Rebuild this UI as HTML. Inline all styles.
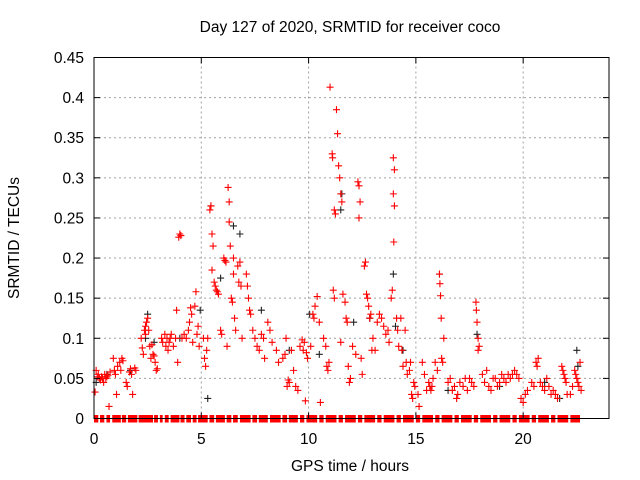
<!DOCTYPE html>
<html><head><meta charset="utf-8"><style>
body{margin:0;background:#fff}
svg{display:block;font-family:"Liberation Sans",sans-serif}
</style></head><body>
<svg id="chart" width="640" height="480" viewBox="0 0 640 480" xmlns="http://www.w3.org/2000/svg">
<rect width="640" height="480" fill="#fff"/>
<text x="350" y="32" font-size="15.5" text-anchor="middle">Day 127 of 2020, SRMTID for receiver coco</text>
<text x="350" y="471" font-size="15.5" text-anchor="middle">GPS time / hours</text>
<text x="19" y="238" font-size="15.5" text-anchor="middle" transform="rotate(-90 19 238)">SRMTID / TECUs</text>
<g id="grid"></g>
<g id="marks"></g>
<rect x="94" y="57.5" width="515" height="361" fill="none" stroke="#000" stroke-width="1"/>
<g id="ticks"></g>
</svg>
<script>
const xTicks=[0,5,10,15,20];
const yTicks=[0,0.05,0.1,0.15,0.2,0.25,0.3,0.35,0.4,0.45];
const yTickLabels=["0","0.05","0.1","0.15","0.2","0.25","0.3","0.35","0.4","0.45"];
const redPoints=[[0.05,.033],[0.1,.06],[0.15,.052],[0.2,.055],[0.25,.05],[0.3,.048],[0.35,.052],[0.4,.05],[0.45,.045],[0.5,.055],[0.55,.05],[0.6,.052],[0.65,.054],[0.75,.058],[0.7,.015],[0.9,.075],[0.95,.06],[1.0,.055],[1.05,.03],
[1.1,.065],[1.2,.07],[1.25,.06],[1.3,.075],[1.35,.072],[1.5,.045],[1.55,.04],[1.65,.058],[1.7,.062],[1.75,.055],[1.8,.03],[1.9,.063],[1.95,.06],
[2.2,.1],[2.25,.088],[2.3,.08],[2.35,.11],[2.4,.115],[2.45,.12],[2.5,.125],[2.55,.11],[2.4,.105],[2.6,.09],[2.65,.075],[2.7,.092],[2.75,.08],[2.8,.078],[2.85,.07],[2.9,.06],[2.95,.062],
[3.15,.1],[3.2,.095],[3.3,.105],[3.35,.09],[3.4,.1],[3.45,.085],[3.5,.095],[3.55,.1],[3.6,.105],[3.7,.09],[3.8,.1],[3.85,.135],[3.95,.226],[4.0,.23],[4.05,.228],[4.1,.1],[3.9,.07],
[4.2,.105],[4.3,.1],[4.4,.11],[4.45,.12],[4.5,.138],[4.55,.13],[4.6,.095],[4.7,.14],[4.75,.158],[4.8,.105],[4.85,.115],[4.9,.09],
[5.1,.1],[5.15,.075],[5.2,.065],[5.25,.085],[5.3,.1],[5.4,.26],[5.45,.265],[5.5,.23],[5.55,.215],[5.5,.185],[5.6,.17],[5.65,.165],[5.7,.16],[5.75,.158],[5.8,.155],[5.9,.11],[5.95,.105],
[6.05,.2],[6.1,.197],[6.15,.195],[6.2,.09],[6.25,.288],[6.3,.27],[6.3,.245],[6.35,.215],[6.4,.15],[6.45,.145],[6.5,.2],[6.55,.125],[6.6,.11],[6.5,.18],[6.7,.19],[6.75,.17],[6.8,.195],[6.85,.165],[6.9,.1],
[7.1,.18],[7.15,.165],[7.2,.15],[7.25,.135],[7.3,.13],[7.4,.11],[7.5,.1],[7.6,.09],[7.7,.085],[7.8,.105],[7.9,.1],[7.95,.075],
[8.1,.12],[8.2,.11],[8.3,.095],[8.5,.085],[8.6,.07],[8.8,.075],[8.9,.08],[8.95,.1],
[9.0,.04],[9.05,.048],[9.1,.045],[9.2,.085],[9.3,.06],[9.4,.04],[9.5,.035],[9.6,.09],[9.7,.098],[9.75,.085],[9.8,.095],[9.9,.082],[9.95,.075],[9.85,.022],
[10.1,.09],[10.2,.13],[10.25,.125],[10.3,.14],[10.4,.152],[10.5,.12],[10.55,.02],[10.7,.1],[10.8,.09],[10.85,.065],[10.9,.06],[10.95,.07],
[11.0,.413],[11.1,.33],[11.12,.325],[11.2,.26],[11.25,.255],[11.15,.16],[11.2,.15],[11.3,.385],[11.35,.355],[11.4,.315],[11.45,.3],[11.5,.28],[11.55,.27],[11.6,.155],[11.7,.145],[11.75,.125],[11.8,.12],[11.5,.095],[11.85,.065],[11.9,.045],[11.95,.05],
[12.05,.09],[12.2,.08],[12.3,.295],[12.35,.29],[12.4,.27],[12.35,.25],[12.45,.075],[12.5,.055],[12.6,.19],[12.65,.195],[12.7,.155],[12.75,.15],[12.8,.14],[12.85,.125],[12.9,.13],[13.0,.1],[12.95,.085],
[13.1,.085],[13.2,.12],[13.3,.13],[13.4,.125],[13.5,.115],[13.6,.105],[13.7,.11],[13.75,.095],[13.85,.15],[13.9,.16],[13.95,.325],[14.0,.31],[13.95,.28],[14.0,.265],[13.97,.22],
[14.1,.125],[14.15,.11],[14.2,.09],[14.3,.125],[14.35,.085],[14.4,.065],[14.5,.11],[14.55,.07],[14.6,.055],[14.7,.06],[14.75,.07],[14.8,.03],[14.85,.025],[14.9,.045],[14.95,.04],
[15.1,.03],[15.15,.015],[15.3,.07],[15.4,.055],[15.5,.035],[15.6,.045],[15.65,.04],[15.7,.035],[15.75,.04],[15.8,.05],[15.9,.07],[16.0,.06],
[16.1,.18],[16.12,.168],[16.15,.153],[16.18,.125],[16.3,.1],[16.2,.075],[16.25,.07],[16.5,.045],[16.6,.05],[16.7,.035],[16.8,.04],[16.9,.025],[16.95,.03],
[17.05,.045],[17.2,.04],[17.3,.05],[17.4,.035],[17.5,.05],[17.6,.045],[17.7,.04],[17.8,.145],[17.82,.135],[17.85,.12],[17.9,.1],[17.95,.09],[17.9,.085],
[18.1,.055],[18.2,.045],[18.3,.06],[18.4,.04],[18.5,.035],[18.6,.05],[18.7,.05],[18.8,.04],[18.9,.045],
[19.0,.055],[19.1,.05],[19.2,.045],[19.3,.055],[19.4,.05],[19.5,.055],[19.6,.06],[19.7,.055],[19.8,.05],[19.9,.025],[20.0,.02],
[20.1,.03],[20.2,.035],[20.4,.045],[20.5,.04],[20.6,.07],[20.65,.065],[20.7,.075],[20.8,.045],[20.9,.04],[21.0,.035],
[21.1,.05],[21.2,.04],[21.3,.03],[21.4,.035],[21.5,.03],[21.6,.025],[21.8,.065],[21.85,.06],[21.9,.055],[21.95,.05],[22.0,.045],[22.05,.03],
[22.2,.03],[22.3,.04],[22.4,.06],[22.45,.055],[22.5,.05],[22.55,.045],[22.6,.04],[22.7,.035],[22.65,.07]];
const blackPoints=[[0.1,.045],[0.6,.055],[1.7,.06],[2.4,.1],[2.5,.13],[2.8,.095],[4.0,.1],[4.95,.135],[5.3,.025],[5.45,.265],[5.9,.175],[6.5,.24],[6.8,.23],[7.8,.135],[9.1,.085],[10.05,.13],[10.5,.08],[11.55,.28],[11.5,.26],[12.1,.12],[12.85,.125],[13.95,.18],[14.05,.115],[14.4,.085],[16.1,.18],[16.5,.035],[17.85,.105],[18.9,.04],[21.0,.045],[21.7,.025],[22.5,.085],[22.55,.065]];
const zeroSegments=[[0,0.2],[0.28,0.48],[0.58,0.75],[0.85,1.25],[1.3,1.5],[1.58,2.02],[2.08,2.75],[2.8,2.98],[3.07,3.2],[3.3,3.48],[3.57,3.98],[4.03,4.22],[4.3,4.52],[4.6,4.78],[4.85,5.3],[5.38,5.6],[5.68,6.1],[6.18,6.4],[6.48,6.7],[6.8,7.3],[7.38,7.6],[7.68,8.1],[8.2,8.7],[8.78,9.0],[9.08,9.5],[9.6,9.8],[9.9,10.4],[10.5,10.7],[10.8,11.3],[11.4,11.6],[11.7,12.2],[12.3,12.5],[12.6,13.1],[13.2,13.4],[13.5,14.0],[14.1,14.3],[14.4,14.9],[15.0,15.2],[15.3,15.8],[15.9,16.1],[16.2,16.7],[16.8,17.0],[17.1,17.6],[17.7,17.9],[18.0,18.5],[18.6,18.8],[18.9,19.4],[19.5,19.7],[19.8,20.3],[20.4,20.6],[20.7,21.2],[21.3,21.5],[21.6,22.1],[22.2,22.65]];

const X0=94,X1=609,Y0=418.5,Y1=57.5,XMAX=24,YMAX=0.45;
function sx(h){return X0+(X1-X0)*h/XMAX;}
function sy(v){return Y0-(Y0-Y1)*v/YMAX;}
const NS="http://www.w3.org/2000/svg";
function mk(tag,attrs,parent){const e=document.createElementNS(NS,tag);for(const k in attrs)e.setAttribute(k,attrs[k]);parent.appendChild(e);return e;}
const grid=document.getElementById('grid'),ticks=document.getElementById('ticks'),marks=document.getElementById('marks');
xTicks.forEach(t=>{
  const x=sx(t);
  if(t>0){const g=mk('line',{x1:x,x2:x,y1:Y0,y2:Y1,stroke:'#a0a0a0','stroke-dasharray':'2,3'},grid);
  
  }
  mk('line',{x1:x,x2:x,y1:Y0,y2:Y0-6,stroke:'#000'},ticks);
  mk('line',{x1:x,x2:x,y1:Y1,y2:Y1+6,stroke:'#000'},ticks);
  const l=mk('text',{x:x,y:444,'font-size':15.5,'text-anchor':'middle'},ticks);
  l.textContent=t;
  
  
});
yTicks.forEach((t,i)=>{
  const y=sy(t);
  if(i>0&&i<yTicks.length-1){const g=mk('line',{x1:X0,x2:X1,y1:y,y2:y,stroke:'#a0a0a0','stroke-dasharray':'2,3'},grid);
  
  }
  mk('line',{x1:X0,x2:X0+6,y1:y,y2:y,stroke:'#000'},ticks);
  mk('line',{x1:X1,x2:X1-6,y1:y,y2:y,stroke:'#000'},ticks);
  const l=mk('text',{x:84,y:y+5.5,'font-size':15.5,'text-anchor':'end'},ticks);
  l.textContent=yTickLabels[i];
  
  
});
function plus(h,v,color,name){
  const x=sx(h),y=sy(v);
  const p=mk('path',{d:`M${x-3.5} ${y}H${x+3.5}M${x} ${y-3.5}V${y+3.5}`,stroke:color,'stroke-width':1.1,fill:'none'},marks);
  
  
}
zeroSegments.forEach(s=>{
  const r=mk('rect',{x:sx(s[0]),y:Y0-3.5,width:sx(s[1])-sx(s[0]),height:7.5,fill:'#ff0000'},marks);
  
  
});
blackPoints.forEach(p=>plus(p[0],p[1],'#222','black-point'));
redPoints.forEach(p=>plus(p[0],p[1],'#ff0000','red-point'));
</script>
</body></html>
